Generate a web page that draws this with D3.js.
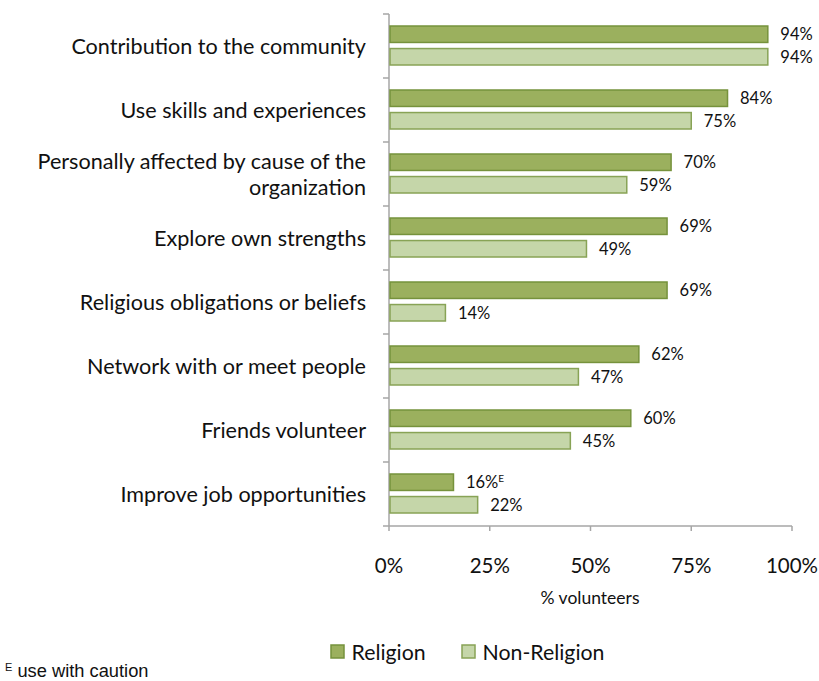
<!DOCTYPE html>
<html>
<head>
<meta charset="utf-8">
<script src="https://cdn.jsdelivr.net/npm/d3@7"></script>
<style>
  html, body { margin: 0; padding: 0; background: #fff; }
  svg { display: block; }
</style>
</head>
<body>
<svg id="chart" width="819" height="681"></svg>
<script>
// Reasons for volunteering, by volunteer type
const categories = [
  ["Contribution to the community"],
  ["Use skills and experiences"],
  ["Personally affected by cause of the", "organization"],
  ["Explore own strengths"],
  ["Religious obligations or beliefs"],
  ["Network with or meet people"],
  ["Friends volunteer"],
  ["Improve job opportunities"]
];
const religion    = [94, 84, 70, 69, 69, 62, 60, 16];
const nonReligion = [94, 75, 59, 49, 14, 47, 45, 22];
const religionFlags = ["", "", "", "", "", "", "", "E"];
const seriesNames = ["Religion", "Non-Religion"];
const xTicks = [0, 25, 50, 75, 100];
const xTickLabels = ["0%", "25%", "50%", "75%", "100%"];

const fills   = ["#9bb05e", "#c5d6a9"];
const strokes = ["#76923c", "#88a356"];
const font = "Lato, 'Open Sans', sans-serif";

const svg = d3.select("#chart");
const plotLeft = 389, plotRight = 792, plotTop = 14, plotBottom = 526;

const x = d3.scaleLinear().domain([0, 100]).range([plotLeft, plotRight]);
const y = d3.scaleBand().domain(d3.range(categories.length)).range([plotTop, plotBottom]);
const sub = d3.scaleBand().domain([0, 1]).range([12, 51]).paddingInner(0.27);

// category tick marks on the vertical axis
const yAxis = svg.append("g");
yAxis.append("line")
  .attr("x1", plotLeft).attr("x2", plotLeft).attr("y1", plotTop).attr("y2", plotBottom)
  .attr("stroke", "#a6a6a6").attr("stroke-width", 1.5);
yAxis.selectAll("line.tick")
  .data(d3.range(categories.length + 1))
  .join("line").attr("class", "tick")
  .attr("x1", plotLeft - 6).attr("x2", plotLeft)
  .attr("y1", i => i < categories.length ? y(i) : plotBottom)
  .attr("y2", i => i < categories.length ? y(i) : plotBottom)
  .attr("stroke", "#a6a6a6").attr("stroke-width", 1.5);

// horizontal axis
const xAxisG = svg.append("g");
xAxisG.append("line")
  .attr("x1", plotLeft).attr("x2", plotRight).attr("y1", plotBottom).attr("y2", plotBottom)
  .attr("stroke", "#a6a6a6").attr("stroke-width", 1.5);
xAxisG.selectAll("line.tick").data(xTicks).join("line").attr("class", "tick")
  .attr("x1", d => x(d)).attr("x2", d => x(d))
  .attr("y1", plotBottom).attr("y2", plotBottom + 5)
  .attr("stroke", "#a6a6a6").attr("stroke-width", 1.5);
xAxisG.selectAll("text").data(xTicks).join("text")
  .attr("x", d => x(d)).attr("y", 573)
  .attr("text-anchor", "middle")
  .attr("font-family", font).attr("font-size", 20.5).attr("fill", "#111")
  .text((d, i) => xTickLabels[i]);

svg.append("text")
  .attr("x", x(50) - 0.5).attr("y", 604)
  .attr("text-anchor", "middle")
  .attr("font-family", font).attr("font-size", 17.5).attr("fill", "#111")
  .text("% volunteers");

// category labels
const labels = svg.append("g");
categories.forEach((lines, i) => {
  const cy = y(i) + y.bandwidth() / 2;
  const lh = 26;
  const t = labels.append("text")
    .attr("text-anchor", "end")
    .attr("font-family", font).attr("font-size", 21.6).attr("fill", "#111");
  lines.forEach((ln, j) => {
    t.append("tspan")
      .attr("x", 366)
      .attr("y", cy + (j - (lines.length - 1) / 2) * lh + 7.5)
      .text(ln);
  });
});

// bars with value labels
const data = [religion, nonReligion];
data.forEach((vals, s) => {
  const g = svg.append("g");
  g.selectAll("rect").data(vals).join("rect")
    .attr("x", x(0) + 1)
    .attr("y", (d, i) => y(i) + sub(s))
    .attr("width", d => x(d) - x(0) - 1)
    .attr("height", sub.bandwidth())
    .attr("fill", fills[s])
    .attr("stroke", strokes[s]).attr("stroke-width", 1.5);
  const lt = g.selectAll("text").data(vals).join("text")
    .attr("x", d => x(d) + 12.5)
    .attr("y", (d, i) => y(i) + sub(s) + sub.bandwidth() / 2 + 6)
    .attr("font-family", font).attr("font-size", 16.5).attr("fill", "#111");
  lt.append("tspan").text(d => d + "%");
  if (s === 0) {
    lt.append("tspan")
      .attr("font-size", 10).attr("dy", -6)
      .text((d, i) => religionFlags[i]);
  }
});

// legend
const legend = svg.append("g");
const legendX = [331, 462];
seriesNames.forEach((name, s) => {
  legend.append("rect")
    .attr("x", legendX[s]).attr("y", 645).attr("width", 13).attr("height", 13)
    .attr("fill", fills[s]).attr("stroke", strokes[s]).attr("stroke-width", 1.5);
  legend.append("text")
    .attr("x", legendX[s] + 20.5).attr("y", 660)
    .attr("font-family", font).attr("font-size", 21.3).attr("fill", "#111")
    .text(name);
});

// footnote
const note = svg.append("text")
  .attr("x", 5).attr("y", 677)
  .attr("font-family", "'Liberation Sans', Arial, sans-serif")
  .attr("font-size", 18.3).attr("fill", "#111");
note.append("tspan").attr("font-size", 11).attr("dy", -6).text("E");
note.append("tspan").attr("dy", 6).text(" use with caution");
</script>
</body>
</html>
